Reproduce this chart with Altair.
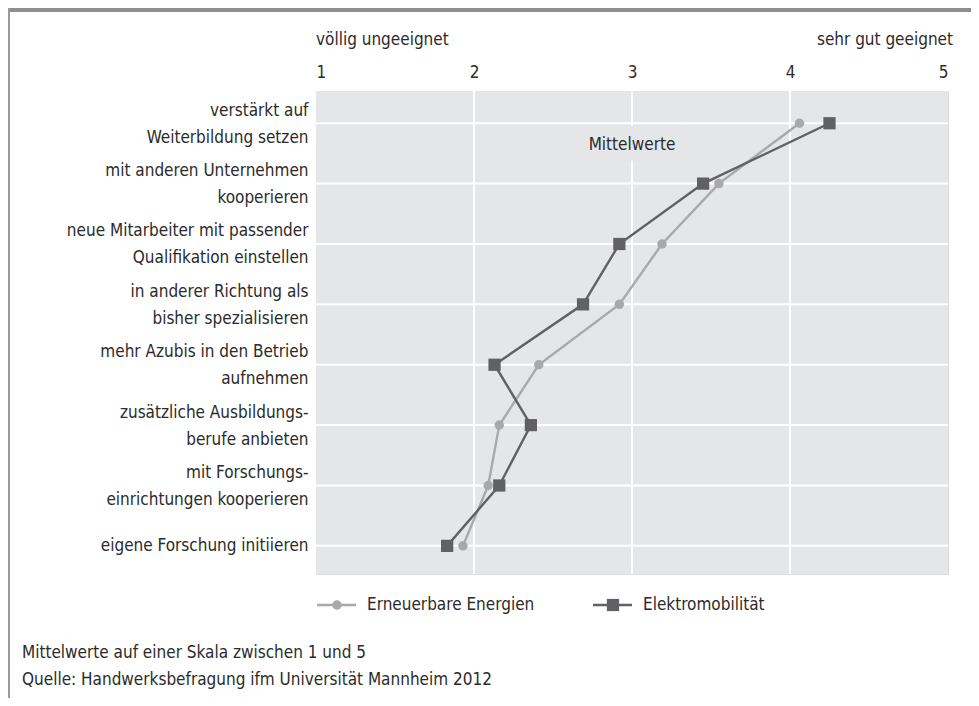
import altair as alt
import pandas as pd

# ---------------- data ----------------
categories = [
    "verstärkt auf|Weiterbildung setzen",
    "mit anderen Unternehmen|kooperieren",
    "neue Mitarbeiter mit passender|Qualifikation einstellen",
    "in anderer Richtung als|bisher spezialisieren",
    "mehr Azubis in den Betrieb|aufnehmen",
    "zusätzliche Ausbildungs-|berufe anbieten",
    "mit Forschungs-|einrichtungen kooperieren",
    "eigene Forschung initiieren",
]
erneuerbare = [4.06, 3.55, 3.19, 2.92, 2.41, 2.16, 2.09, 1.93]
elektro = [4.25, 3.45, 2.92, 2.69, 2.13, 2.36, 2.16, 1.83]
series_names = ["Erneuerbare Energien", "Elektromobilität"]
x_ticks = [1, 2, 3, 4, 5]
scale_ends = ["völlig ungeeignet", "sehr gut geeignet"]
annotation = "Mittelwerte"
notes = [
    "Mittelwerte auf einer Skala zwischen 1 und 5",
    "Quelle: Handwerksbefragung ifm Universität Mannheim 2012",
]

# ---------------- styles ----------------
FONT = "Liberation Sans Narrow, DejaVu Sans Condensed, sans-serif"
TEXT = "#2b2b2b"
BG = "#e5e6e8"
colors = ["#a9a9ab", "#616165"]
shapes = ["circle", "square"]
sizes = [90, 150]
W, H = 632, 483

rows = []
for s, vals in zip(series_names, [erneuerbare, elektro]):
    for i, v in enumerate(vals):
        rows.append({"series": s, "row": i, "value": v})
df = pd.DataFrame(rows)

cat_array = "[" + ",".join("'" + c + "'" for c in categories) + "]"
label_expr = "split(" + cat_array + "[datum.value], '|')"
single_line_test = "indexof(" + cat_array + "[datum.value], '|') < 0"

x_scale = alt.Scale(domain=[1, 5], nice=False, zero=False)
y_scale = alt.Scale(domain=[-0.534, 7.466], reverse=True, nice=False, zero=False)

x_enc = alt.X(
    "value:Q", scale=x_scale,
    axis=alt.Axis(
        orient="top", values=x_ticks, format="d", title=None,
        domain=False, ticks=False, tickSize=0, grid=False,
        labelFontSize=17, labelPadding=19, labelBaseline="middle",
        labelColor=TEXT, labelFont=FONT,
    ),
)
y_enc = alt.Y(
    "row:Q", scale=y_scale,
    axis=alt.Axis(
        values=list(range(len(categories))), labelExpr=label_expr, title=None,
        domain=False, ticks=False, tickSize=0, grid=False,
        labelFontSize=17, labelLineHeight=27, labelPadding=8,
        labelOffset={"condition": {"test": single_line_test, "value": 0}, "value": -13},
        labelBaseline="middle", labelLimit=400, labelColor=TEXT, labelFont=FONT,
    ),
)

layers = []

# plot background
one_row = pd.DataFrame([{"k": 1}])
layers.append(alt.Chart(one_row).mark_rect(color=BG).encode(
    x=alt.value(0), x2=alt.value(W), y=alt.value(0), y2=alt.value(H)))

# grid lines (white), from the tick values
vgrid = pd.DataFrame({"value": x_ticks[1:-1]})
layers.append(alt.Chart(vgrid).mark_rule(color="white", strokeWidth=2).encode(
    x=alt.X("value:Q", scale=x_scale), y=alt.value(0), y2=alt.value(H)))
hgrid = pd.DataFrame({"row": list(range(len(categories)))})
layers.append(alt.Chart(hgrid).mark_rule(color="white", strokeWidth=2).encode(
    y=alt.Y("row:Q", scale=y_scale), x=alt.value(0), x2=alt.value(W)))

# annotation box + text (covers the grid line)
ann_df = pd.DataFrame([{"text": annotation, "x": 3.0, "y": 0.36,
                        "x0": 2.69, "x1": 3.31, "y0": 0.05, "y1": 0.62}])
layers.append(alt.Chart(ann_df).mark_rect(color=BG).encode(
    x=alt.X("x0:Q"), x2="x1:Q", y=alt.Y("y0:Q"), y2="y1:Q"))
layers.append(alt.Chart(ann_df).mark_text(
    font=FONT, fontSize=17, color=TEXT, align="center", baseline="middle"
).encode(x="x:Q", y="y:Q", text="text:N"))

base = alt.Chart(df)
for s, c, sh, sz in zip(series_names, colors, shapes, sizes):
    sub = base.transform_filter(alt.datum.series == s)
    layers.append(sub.mark_line(color=c, strokeWidth=2.4).encode(x=x_enc, y=y_enc, order="row:Q"))
    layers.append(sub.mark_point(filled=True, color=c, shape=sh, size=sz, opacity=1, strokeWidth=0).encode(
        x="value:Q", y="row:Q"))

# scale end titles
ends_df = pd.DataFrame([{"t": scale_ends[0], "x": 1.0}])
layers.append(alt.Chart(ends_df).mark_text(
    font=FONT, fontSize=17, color=TEXT, align="left", baseline="middle"
).encode(x="x:Q", y=alt.value(-51), text="t:N"))
ends_df2 = pd.DataFrame([{"t": scale_ends[1], "x": 5.0}])
layers.append(alt.Chart(ends_df2).mark_text(
    font=FONT, fontSize=17, color=TEXT, align="right", baseline="middle", dx=5
).encode(x="x:Q", y=alt.value(-51), text="t:N"))

# legend (manual)
for i, (s, c, sh, sz) in enumerate(zip(series_names, colors, shapes, sizes)):
    x0 = 1 + 276 * i
    one = pd.DataFrame([{"t": s}])
    layers.append(alt.Chart(one).mark_rule(color=c, strokeWidth=2.4).encode(
        x=alt.value(x0), x2=alt.value(x0 + 39), y=alt.value(514)))
    layers.append(alt.Chart(one).mark_point(filled=True, color=c, shape=sh, size=sz, opacity=1, strokeWidth=0).encode(
        x=alt.value(x0 + 20), y=alt.value(514)))
    layers.append(alt.Chart(one).mark_text(
        font=FONT, fontSize=17, color=TEXT, align="left", baseline="middle"
    ).encode(x=alt.value(x0 + 50), y=alt.value(514), text="t:N"))

# footnotes
for j, n in enumerate(notes):
    one = pd.DataFrame([{"t": n}])
    layers.append(alt.Chart(one).mark_text(
        font=FONT, fontSize=17, color=TEXT, align="left", baseline="middle"
    ).encode(x=alt.value(-294), y=alt.value(562 + 27 * j), text="t:N"))

# frame decorations: top bar and left border
layers.append(alt.Chart(one_row).mark_rect(color="#8d8e92").encode(
    x=alt.value(-308), x2=alt.value(W + 23), y=alt.value(-83), y2=alt.value(-79)))
layers.append(alt.Chart(one_row).mark_rect(color="#9a9a9c").encode(
    x=alt.value(-308), x2=alt.value(-306), y=alt.value(-83), y2=alt.value(H + 124)))

chart = alt.layer(*layers).properties(
    width=W, height=H,
    autosize=alt.AutoSizeParams(type="none"),
    padding={"left": 308, "top": 83, "right": 23, "bottom": 124},
).configure_view(strokeWidth=0).configure(background="white")

chart.save("out.html", embed_options={"renderer": "svg", "actions": False})
